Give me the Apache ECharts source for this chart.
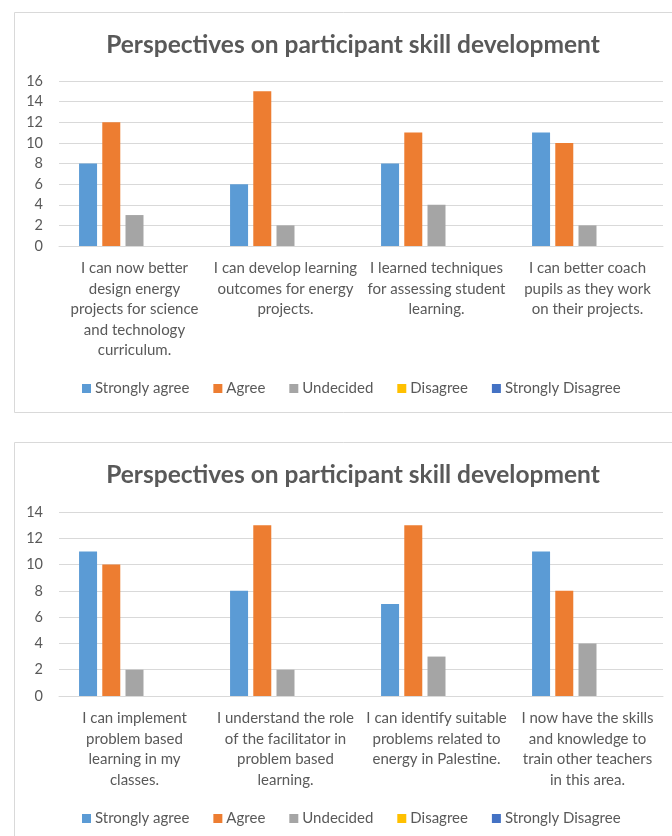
<!DOCTYPE html>
<html>
<head>
<meta charset="utf-8">
<script src="https://cdn.jsdelivr.net/npm/echarts@6/dist/echarts.min.js"></script>
<style>
  html, body { margin: 0; padding: 0; background: #fff; }
  #c { width: 672px; height: 836px; }
</style>
</head>
<body>
<div id="c"></div>
<script>
const titleText = "Perspectives on participant skill development";
const seriesNames = ["Strongly agree", "Agree", "Undecided", "Disagree", "Strongly Disagree"];
const seriesColors = ["#5B9BD5", "#ED7D31", "#A5A5A5", "#FFC000", "#4472C4"];

const categories1 = [
  "I can now better\ndesign energy\nprojects for science\nand technology\ncurriculum.",
  "I can develop learning\noutcomes for energy\nprojects.",
  "I learned techniques\nfor assessing student\nlearning.",
  "I can better coach\npupils as they work\non their projects."
];
const stronglyAgree1 = [8, 6, 8, 11];
const agree1 = [12, 15, 11, 10];
const undecided1 = [3, 2, 4, 2];
const disagree1 = [0, 0, 0, 0];
const stronglyDisagree1 = [0, 0, 0, 0];

const categories2 = [
  "I can implement\nproblem based\nlearning in my\nclasses.",
  "I understand the role\nof the facilitator in\nproblem based\nlearning.",
  "I can identify suitable\nproblems related to\nenergy in Palestine.",
  "I now have the skills\nand knowledge to\ntrain other teachers\nin this area."
];
const stronglyAgree2 = [11, 8, 7, 11];
const agree2 = [10, 13, 13, 8];
const undecided2 = [2, 2, 3, 4];
const disagree2 = [0, 0, 0, 0];
const stronglyDisagree2 = [0, 0, 0, 0];

const yMax1 = 16, yMax2 = 14, yStep = 2;

const FONT = "Lato";
const TXT = "#595959";
const GRID = "#D9D9D9";

const chart = echarts.init(document.getElementById('c'), null, { renderer: 'canvas' });

function xAx(idx, cats) {
  return {
    type: 'category', gridIndex: idx, data: cats,
    axisLine: { lineStyle: { color: GRID, width: 1 } },
    axisTick: { show: false },
    axisLabel: { interval: 0, color: TXT, fontFamily: FONT, fontSize: 15, lineHeight: 20.5, margin: 12 }
  };
}
function yAx(idx, max) {
  return {
    type: 'value', gridIndex: idx, min: 0, max: max, interval: yStep,
    axisLine: { show: false }, axisTick: { show: false },
    splitLine: { lineStyle: { color: GRID, width: 1 } },
    axisLabel: { color: TXT, fontFamily: FONT, fontSize: 14.5, margin: 16 }
  };
}
const sets = [
  [stronglyAgree1, agree1, undecided1, disagree1, stronglyDisagree1],
  [stronglyAgree2, agree2, undecided2, disagree2, stronglyDisagree2]
];
const series = [];
sets.forEach((set, gi) => {
  set.forEach((vals, si) => {
    series.push({
      type: 'bar', name: seriesNames[si], data: vals,
      xAxisIndex: gi, yAxisIndex: gi,
      barWidth: 18, barGap: '29%',
      itemStyle: { color: seriesColors[si] },
      emphasis: { disabled: true }
    });
  });
});
function legend(top) {
  return {
    data: seriesNames, left: 77, top: top, itemWidth: 9, itemHeight: 9, itemGap: 24,
    icon: 'rect', selectedMode: false,
    textStyle: { color: TXT, fontFamily: FONT, fontSize: 15, padding: [0, 0, 0, -1] }
  };
}

chart.setOption({
  animation: false,
  backgroundColor: '#ffffff',
  graphic: [
    { type: 'rect', shape: { x: 14.5, y: 12.5, width: 700, height: 400 }, style: { fill: 'none', stroke: GRID, lineWidth: 1 }, z: -1 },
    { type: 'rect', shape: { x: 14.5, y: 442.5, width: 700, height: 460 }, style: { fill: 'none', stroke: GRID, lineWidth: 1 }, z: -1 }
  ],
  title: [
    { text: titleText, left: 348, textAlign: 'center', top: 28, textStyle: { color: TXT, fontFamily: FONT, fontSize: 24.5, fontWeight: 'bold' } },
    { text: titleText, left: 348, textAlign: 'center', top: 458, textStyle: { color: TXT, fontFamily: FONT, fontSize: 24.5, fontWeight: 'bold' } }
  ],
  legend: [legend(376), legend(806)],
  grid: [
    { left: 59, right: 9, top: 81, height: 165 },
    { left: 59, right: 9, top: 512, height: 184 }
  ],
  xAxis: [xAx(0, categories1), xAx(1, categories2)],
  yAxis: [yAx(0, yMax1), yAx(1, yMax2)],
  series: series
});
</script>
</body>
</html>
